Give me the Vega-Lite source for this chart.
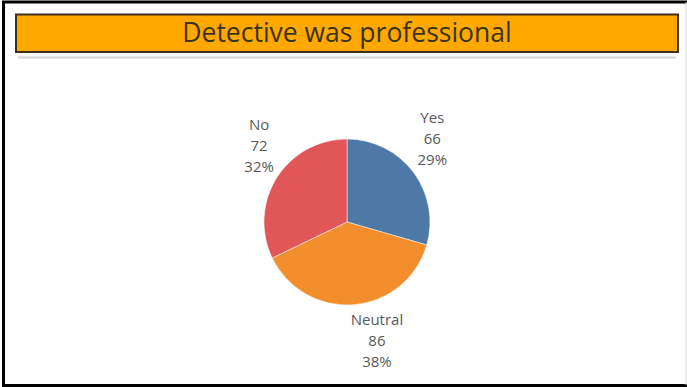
{
  "$schema": "https://vega.github.io/schema/vega-lite/v6.json",
  "width": 687,
  "height": 387,
  "autosize": {"type": "none"},
  "padding": 0,
  "background": "white",
  "config": {"view": {"stroke": null}, "font": "Open Sans"},
  "datasets": {
    "answers": [
      {"answer": "Yes", "count": 66, "pct": "29%", "label": "Yes\n66\n29%", "order": 1},
      {"answer": "Neutral", "count": 86, "pct": "38%", "label": "Neutral\n86\n38%", "order": 2},
      {"answer": "No", "count": 72, "pct": "32%", "label": "No\n72\n32%", "order": 3}
    ],
    "frame": [{"name": "frame"}]
  },
  "resolve": {"scale": {"theta": "independent"}},
  "layer": [
    {
      "data": {"name": "frame"},
      "mark": {"type": "rect", "fill": null, "filled": false, "stroke": "#000000", "strokeWidth": 3},
      "encoding": {"x": {"value": 3.5}, "x2": {"value": 690}, "y": {"value": 2}, "y2": {"value": 385.5}}
    },
    {
      "data": {"name": "frame"},
      "mark": {"type": "rule", "stroke": "#d9d9d9", "strokeWidth": 1},
      "encoding": {"x": {"value": 686}, "y": {"value": 2}, "y2": {"value": 385}}
    },
    {
      "data": {"name": "frame"},
      "mark": {"type": "rect", "fill": "#FFA900", "stroke": "#3d2f1c", "strokeWidth": 2},
      "encoding": {"x": {"value": 16}, "x2": {"value": 678}, "y": {"value": 14.5}, "y2": {"value": 52}}
    },
    {
      "data": {"name": "frame"},
      "mark": {"type": "text", "text": "Detective was professional", "fontSize": 26.5, "color": "#3b3319", "align": "center", "baseline": "middle"},
      "encoding": {"x": {"value": 347}, "y": {"value": 34}}
    },
    {
      "data": {"name": "frame"},
      "mark": {"type": "rule", "stroke": "#d4d4d4", "strokeWidth": 2},
      "encoding": {"x": {"value": 18}, "x2": {"value": 676}, "y": {"value": 57.5}}
    },
    {
      "data": {"name": "answers"},
      "mark": {"type": "arc", "outerRadius": 83, "stroke": "white", "strokeWidth": 0.5},
      "encoding": {
        "theta": {"field": "count", "type": "quantitative", "stack": true, "scale": {"domain": [0, 224]}},
        "order": {"field": "order", "type": "quantitative"},
        "color": {
          "field": "answer",
          "type": "nominal",
          "scale": {"domain": ["Yes", "Neutral", "No"], "range": ["#4E79A7", "#F28E2B", "#E15759"]},
          "legend": null
        },
        "x": {"value": 347},
        "y": {"value": 222}
      }
    },
    {
      "data": {"name": "answers"},
      "transform": [{"filter": "datum.answer == 'Yes'"}],
      "mark": {"type": "text", "radius": 118, "fontSize": 15, "lineHeight": 21, "lineBreak": "\n", "color": "#595959", "align": "center", "baseline": "middle", "dx": -9, "dy": -33},
      "encoding": {
        "theta": {"field": "count", "type": "quantitative", "stack": true, "scale": {"domain": [0, 224]}},
        "text": {"field": "label"},
        "x": {"value": 347},
        "y": {"value": 222}
      }
    },
    {
      "data": {"name": "answers"},
      "transform": [{"filter": "datum.answer == 'Neutral'"}],
      "mark": {"type": "text", "radius": 118, "fontSize": 15, "lineHeight": 21, "lineBreak": "\n", "color": "#595959", "align": "center", "baseline": "middle", "dx": 20, "dy": -20},
      "encoding": {
        "theta": {"field": "count", "type": "quantitative", "stack": true, "scale": {"domain": [-66, 158]}},
        "text": {"field": "label"},
        "x": {"value": 347},
        "y": {"value": 222}
      }
    },
    {
      "data": {"name": "answers"},
      "transform": [{"filter": "datum.answer == 'No'"}],
      "mark": {"type": "text", "radius": 118, "fontSize": 15, "lineHeight": 21, "lineBreak": "\n", "color": "#595959", "align": "center", "baseline": "middle", "dx": 12, "dy": -34},
      "encoding": {
        "theta": {"field": "count", "type": "quantitative", "stack": true, "scale": {"domain": [-152, 72]}},
        "text": {"field": "label"},
        "x": {"value": 347},
        "y": {"value": 222}
      }
    }
  ]
}
